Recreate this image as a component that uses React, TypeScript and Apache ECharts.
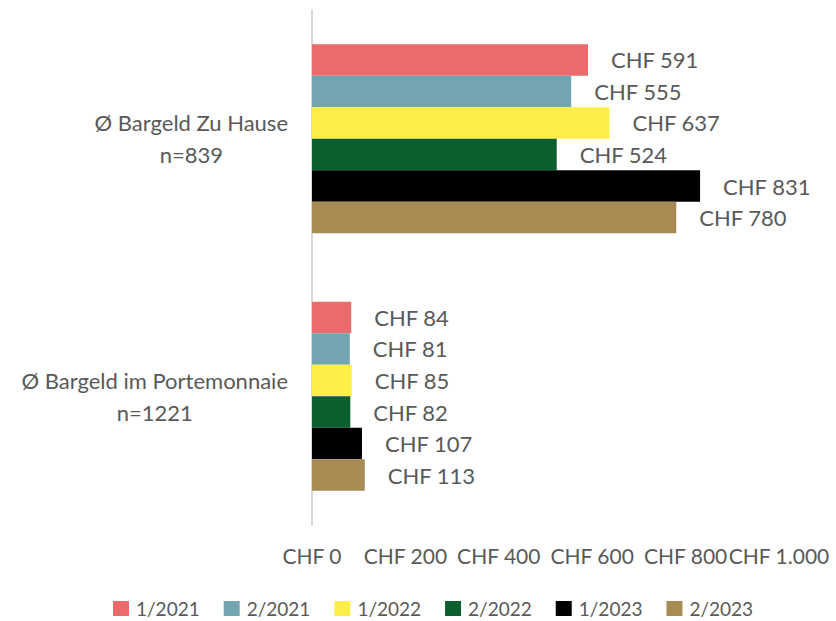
import React, { useEffect, useRef } from "react";
import * as echarts from "echarts";

const categories = ["Ø Bargeld Zu Hause|n=839", "Ø Bargeld im Portemonnaie|n=1221"];
const seriesNames = ["1/2021", "2/2021", "1/2022", "2/2022", "1/2023", "2/2023"];
const seriesColors = ["#EB6A6B", "#72A5AF", "#FFEE47", "#0B5E2E", "#000000", "#A88B53"];
const values1_2021 = [591, 84];
const values2_2021 = [555, 81];
const values1_2022 = [637, 85];
const values2_2022 = [524, 82];
const values1_2023 = [831, 107];
const values2_2023 = [780, 113];
const allValues = [values1_2021, values2_2021, values1_2022, values2_2022, values1_2023, values2_2023];

const FONT = "Lato";
const TXT = "#595959";

export default function App() {
  const ref = useRef<HTMLDivElement>(null);
  useEffect(() => {
    if (!ref.current) return;
    const chart = echarts.init(ref.current, null, { renderer: "svg" });
    chart.setOption({
      animation: false,
      textStyle: { fontFamily: FONT, color: TXT },
      grid: { left: 312, right: 57, top: 10, bottom: 96, containLabel: false },
      legend: {
        top: 599,
        left: 113,
        padding: 0,
        itemWidth: 16,
        itemHeight: 15,
        itemGap: 24,
        icon: "rect",
        textStyle: { fontFamily: FONT, fontSize: 19, color: TXT, padding: [0, 0, 0, 2] },
        data: seriesNames,
      },
      xAxis: {
        type: "value",
        min: 0,
        max: 1000,
        interval: 200,
        splitLine: { show: false },
        axisLine: { show: false },
        axisTick: { show: false },
        axisLabel: {
          fontFamily: FONT,
          fontSize: 21,
          color: TXT,
          margin: 20,
          showMinLabel: true,
          showMaxLabel: true,
          formatter: (v: number) => "CHF " + (v >= 1000 ? Math.floor(v / 1000) + "." + String(v % 1000).padStart(3, "0") : String(v)),
        },
      },
      yAxis: {
        type: "category",
        inverse: true,
        data: categories,
        axisLine: { show: true, lineStyle: { color: "#D9D9D9", width: 2 } },
        axisTick: { show: false },
        axisLabel: {
          margin: 24,
          align: "right",
          formatter: (v: string) => v.split("|").map((s) => "{a|" + s + "}").join("\n"),
          rich: {
            a: { fontFamily: FONT, fontSize: 22, color: TXT, align: "center", lineHeight: 32 },
          },
        },
      },
      series: seriesNames.map((name, i) => ({
        name,
        type: "bar",
        data: allValues[i],
        barGap: "0%",
        barCategoryGap: "26.6%",
        itemStyle: { color: seriesColors[i] },
        label: {
          show: true,
          position: "right",
          distance: 23,
          fontFamily: FONT,
          fontSize: 22,
          color: TXT,
          formatter: (p: any) => "CHF " + p.value,
        },
      })),
    });
    return () => chart.dispose();
  }, []);
  return <div ref={ref} style={{ width: 836, height: 621, position: "absolute", left: 0, top: 0 }} />;
}
